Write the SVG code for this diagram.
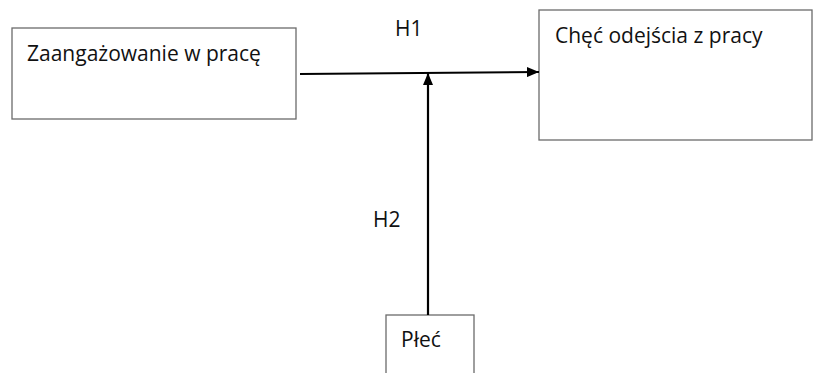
<svg xmlns="http://www.w3.org/2000/svg" width="814" height="373" viewBox="0 0 814 373">
<style>
.box{fill:#fff;stroke:#6b6b6b;stroke-width:1.3}
.t{font-family:"Open Sans","Liberation Sans",sans-serif;font-size:21px;fill:#111}
.c{stroke:#000;stroke-width:2.2;fill:none}
</style>
<defs>
<marker id="ah" markerWidth="12" markerHeight="10" refX="12" refY="5" orient="auto" markerUnits="userSpaceOnUse">
<path d="M0,0 L12,5 L0,10 Z" fill="#000"/>
</marker>
</defs>
<rect width="814" height="373" fill="#fff"/>
<g id="zaangazowanie">
<rect class="box" x="12" y="28" width="284" height="91"/>
<text class="t" x="27" y="61">Zaangażowanie w pracę</text>
</g>
<g id="chec">
<rect class="box" x="539" y="10" width="273" height="130"/>
<text class="t" x="555" y="43">Chęć odejścia z pracy</text>
</g>
<g id="plec">
<rect class="box" x="386" y="315" width="88" height="70"/>
<text class="t" x="401" y="347">Płeć</text>
</g>
<g id="connectors">
<line class="c" x1="300" y1="74" x2="539" y2="72" marker-end="url(#ah)"/>
<line class="c" x1="428" y1="315" x2="428" y2="73" marker-end="url(#ah)"/>
<text class="t" x="395" y="36">H1</text>
<text class="t" x="373" y="227">H2</text>
</g>
</svg>
